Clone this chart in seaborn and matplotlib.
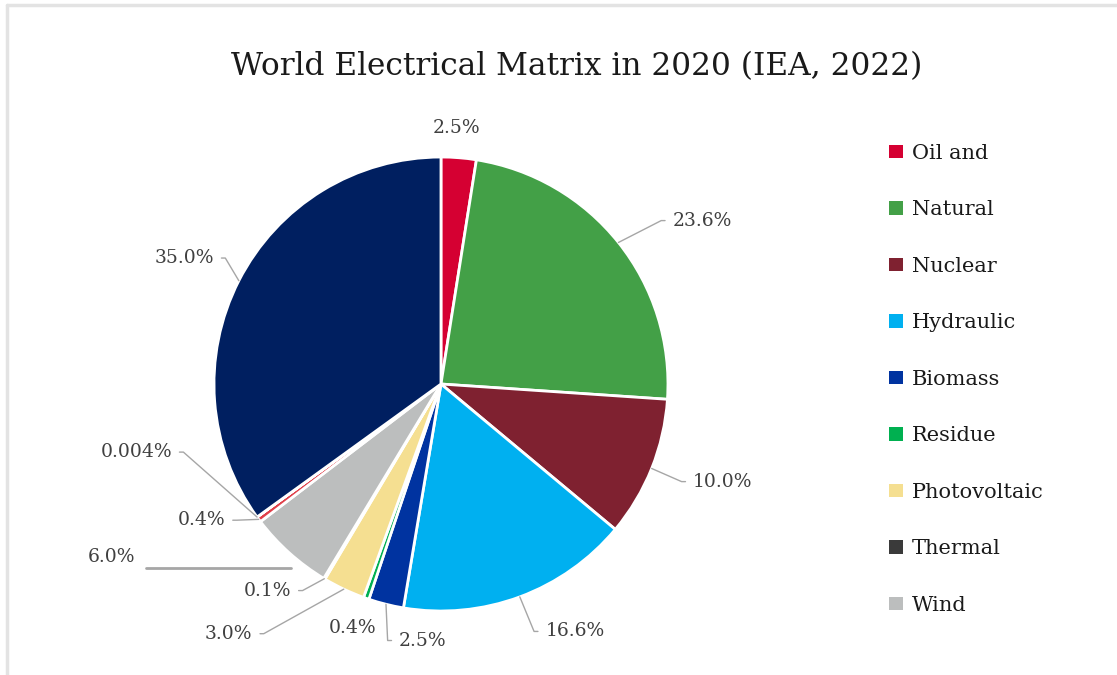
"""World electrical matrix 2020 pie chart (IEA, 2022)."""
import matplotlib
matplotlib.use('Agg')
import matplotlib.pyplot as plt
from matplotlib.patches import Patch
from matplotlib.lines import Line2D
import numpy as np
import seaborn as sns

# data, clockwise from 12 o'clock
sources = ['Oil and', 'Natural', 'Nuclear', 'Hydraulic', 'Biomass', 'Residue',
           'Photovoltaic', 'Thermal', 'Wind', 'Other', 'Tidal', 'Coal']
shares = [2.5, 23.6, 10.0, 16.6, 2.5, 0.4, 3.0, 0.1, 6.0, 0.4, 0.004, 35.0]
share_labels = ['2.5%', '23.6%', '10.0%', '16.6%', '2.5%', '0.4%',
                '3.0%', '0.1%', '6.0%', '0.4%', '0.004%', '35.0%']
colors = ['#D50032', '#43A047', '#7F2130', '#00B0F0', '#0033A0', '#00B050',
          '#F5DF91', '#3A3A3A', '#BCBEBE', '#E0404A', '#F08080', '#001F60']
legend_count = 9  # legend in the original is cut after "Wind"

# label anchor (pie radius = 1): near edge of the text, and leader style
label_pos = [(0.07, 1.13), (1.02, 0.72), (1.11, -0.43), (0.46, -1.09),
             (-0.185, -1.13), (-0.39, -1.075), (-0.83, -1.10), (-0.66, -0.91),
             (-1.45, -0.76), (-0.95, -0.60), (-1.185, -0.30), (-1.0, 0.555)]
leaders = [False, True, True, True, True, False, True, True, False, True, True, True]

sns.set_style('white')
plt.rcParams['font.family'] = ['DejaVu Serif', 'Liberation Serif']

fig = plt.figure(figsize=(11.17, 6.75), dpi=100)
ax = fig.add_axes([0.00868, 0.01074, 0.7722, 0.8407])

wedges, _ = ax.pie(shares, colors=colors, startangle=90, counterclock=False,
                   radius=1.0, wedgeprops=dict(edgecolor='white', linewidth=2))
ax.set_xlim(-1.9, 1.9)
ax.set_ylim(-1.25, 1.25)
ax.axis('off')

# percentage labels with grey elbow leader lines (short flat bit at the text)
for wedge, text, (tx, ty), lead in zip(wedges, share_labels, label_pos, leaders):
    mid = np.deg2rad((wedge.theta1 + wedge.theta2) / 2)
    ex, ey = np.cos(mid), np.sin(mid)
    if lead:
        side = 1 if tx > ex else -1
        ha = 'left' if side > 0 else 'right'
        elbow_x = tx - side * 0.05
        ang_b = np.degrees(np.arctan2(ty - ey, elbow_x - ex))
        ax.annotate(text, xy=(ex, ey), xytext=(tx, ty), ha=ha, va='center',
                    fontsize=13.5, color='#404040',
                    arrowprops=dict(arrowstyle='-', color='#A6A6A6', lw=1,
                                    shrinkA=3, shrinkB=0,
                                    connectionstyle=f'angle,angleA=0,angleB={ang_b:.1f},rad=0'))
    else:
        ax.text(tx, ty, text, ha='center', va='center', fontsize=13.5, color='#404040')

# the odd detached horizontal line under the wind label
tx, ty = label_pos[8]
ax.plot([tx + 0.15, tx + 0.79], [ty - 0.05, ty - 0.05], color='#A6A6A6', lw=2)

fig.suptitle('World Electrical Matrix in 2020 (IEA, 2022)', x=0.516, y=0.925,
             fontsize=22.5, color='#1a1a1a')

handles = [Patch(facecolor=c, edgecolor='none') for c in colors[:legend_count]]
fig.legend(handles, sources[:legend_count], loc='upper left',
           bbox_to_anchor=(0.796, 0.787), frameon=False, fontsize=15,
           labelspacing=1.8, handlelength=0.65, handleheight=0.65,
           handletextpad=0.45, borderpad=0, borderaxespad=0,
           labelcolor='#1a1a1a')

# light frame at top and left as in the original
fig.add_artist(Line2D([0.0065, 0.0065], [0, 0.993], color='#E3E3E3', lw=2.5,
                      transform=fig.transFigure))
fig.add_artist(Line2D([0.0065, 1.0], [0.993, 0.993], color='#E3E3E3', lw=2.5,
                      transform=fig.transFigure))

fig.savefig('out.png', dpi=100, facecolor='white')
